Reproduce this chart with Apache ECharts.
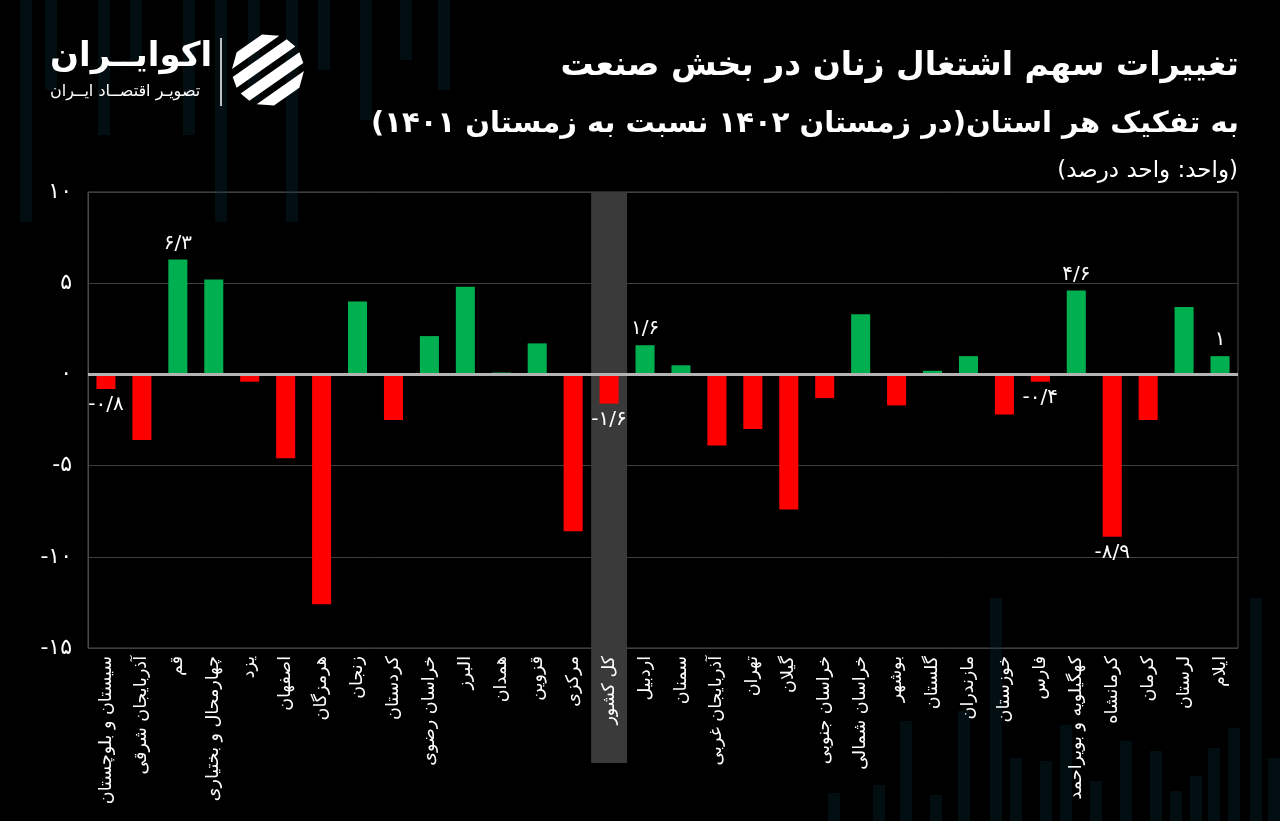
<!DOCTYPE html>
<html lang="fa">
<head>
<meta charset="utf-8">
<script src="https://cdn.jsdelivr.net/npm/echarts@6/dist/echarts.min.js"></script>
<style>
  html, body { margin: 0; padding: 0; background: #000; }
  #chart { width: 1280px; height: 821px; }
</style>
</head>
<body>
<div id="chart"></div>
<script>
// ---- data ----
const categories = [
  'سیستان و بلوچستان', 'آذربایجان شرقی', 'قم', 'چهارمحال و بختیاری', 'یزد', 'اصفهان',
  'هرمزگان', 'زنجان', 'کردستان', 'خراسان رضوی', 'البرز', 'همدان', 'قزوین', 'مرکزی',
  'کل کشور', 'اردبیل', 'سمنان', 'آذربایجان غربی', 'تهران', 'گیلان', 'خراسان جنوبی',
  'خراسان شمالی', 'بوشهر', 'گلستان', 'مازندران', 'خوزستان', 'فارس',
  'کهگیلویه و بویراحمد', 'کرمانشاه', 'کرمان', 'لرستان', 'ایلام'
];
const values = [
  -0.8, -3.6, 6.3, 5.2, -0.4, -4.6,
  -12.6, 4.0, -2.5, 2.1, 4.8, 0.1, 1.7, -8.6,
  -1.6, 1.6, 0.5, -3.9, -3.0, -7.4, -1.3,
  3.3, -1.7, 0.2, 1.0, -2.2, -0.4,
  4.6, -8.9, -2.5, 3.7, 1.0
];
const labeledIndices = [0, 2, 14, 15, 26, 27, 28, 31];
const highlightCategory = 'کل کشور';
const yMin = -15, yMax = 10, yInterval = 5;

const titleLine1 = 'تغییرات سهم اشتغال زنان در بخش صنعت';
const titleLine2 = 'به تفکیک هر استان(در زمستان ۱۴۰۲ نسبت به زمستان ۱۴۰۱)';
const unitText = '(واحد: واحد درصد)';
const brandName = 'اکوایــران';
const brandSlogan = 'تصویـر اقتصــاد ایــران';

// ---- helpers ----
const FA = 'DejaVu Sans';
const RLM = '\u200F';
const rtl = s => RLM + s + RLM;
const faDigits = '۰۱۲۳۴۵۶۷۸۹';
const toFa = v => String(v).replace('.', '/').replace(/\d/g, d => faDigits[d]);

const GREEN = '#00b050', RED = '#ff0000';

const barData = values.map((v, i) => ({
  value: v,
  itemStyle: { color: v >= 0 ? GREEN : RED },
  label: {
    show: labeledIndices.indexOf(i) >= 0,
    position: v >= 0 ? 'top' : 'bottom'
  }
}));

const chart = echarts.init(document.getElementById('chart'), null, { renderer: 'canvas' });

const option = {
  backgroundColor: '#000',
  animation: false,
  title: [
    { text: rtl(titleLine1), right: 36, top: 45,
      textStyle: { color: '#fff', fontFamily: FA, fontWeight: 'bold', fontSize: 33 } },
    { text: rtl(titleLine2), right: 36, top: 105,
      textStyle: { color: '#fff', fontFamily: FA, fontWeight: 'bold', fontSize: 29 } },
    { text: rtl(unitText), right: 37, top: 155,
      textStyle: { color: '#fff', fontFamily: FA, fontWeight: 'normal', fontSize: 23 } }
  ],
  grid: { left: 88, right: 42, top: 192, bottom: 173, show: true, borderColor: '#4a4a4a', borderWidth: 1 },
  xAxis: {
    type: 'category',
    data: categories,
    z: 5,
    axisLine: { show: false },
    axisTick: { show: false },
    axisLabel: { interval: 0, rotate: 90, color: '#fff', fontFamily: FA, fontSize: 17.5, margin: 8,
      formatter: s => rtl(s) }
  },
  yAxis: {
    type: 'value', min: yMin, max: yMax, interval: yInterval,
    axisLine: { show: true, lineStyle: { color: '#4a4a4a' } },
    axisTick: { show: false },
    splitLine: { lineStyle: { color: '#3e3e3e', width: 1 } },
    axisLabel: { color: '#fff', fontFamily: FA, fontSize: 22, margin: 16, formatter: v => toFa(v) }
  },
  series: [{
    type: 'bar',
    data: barData,
    barWidth: '53%',
    z: 3,
    label: { color: '#fff', fontFamily: FA, fontSize: 20, distance: 6, formatter: p => toFa(p.value) },
    markLine: {
      silent: true, symbol: 'none',
      label: { show: false },
      lineStyle: { color: '#b4b4b4', width: 3, type: 'solid' },
      data: [{ yAxis: 0 }]
    }
  }]
};
chart.setOption(option);

// ---- decorations (background stripes, highlight band, logo) ----
const deco = [];
const decoColor = 'rgba(12,50,66,0.28)';
const topStripes = [[20, 222], [45, 90], [98, 135], [130, 60], [183, 135], [215, 222], [248, 100], [286, 222], [318, 70], [360, 120], [400, 60], [438, 90]];
topStripes.forEach(([x, h]) => deco.push({ type: 'rect', z: 0, silent: true,
  shape: { x: x, y: 0, width: 12, height: h }, style: { fill: decoColor } }));
const bottomStripes = [[828, 28], [873, 36], [900, 100], [930, 26], [958, 110], [990, 223], [1010, 63], [1040, 60], [1060, 96], [1090, 40], [1120, 80], [1150, 70], [1170, 30], [1190, 45], [1208, 73], [1228, 93], [1250, 223], [1268, 63]];
bottomStripes.forEach(([x, h]) => deco.push({ type: 'rect', z: 0, silent: true,
  shape: { x: x, y: 821 - h, width: 12, height: h }, style: { fill: decoColor } }));

// highlight band for the national total, located through the chart's own scales
const hi = categories.indexOf(highlightCategory);
const cx = chart.convertToPixel({ xAxisIndex: 0 }, hi);
const bandW = chart.convertToPixel({ xAxisIndex: 0 }, hi + 1) - cx;
const yTop = chart.convertToPixel({ yAxisIndex: 0 }, yMax);
const yBot = chart.convertToPixel({ yAxisIndex: 0 }, yMin);
deco.push({ type: 'rect', z: 1, silent: true,
  shape: { x: cx - bandW / 2, y: yTop, width: bandW, height: (yBot - yTop) + 115 },
  style: { fill: '#3a3a3a' } });

// logo
deco.push({ type: 'text', z: 5, left: 50, top: 40,
  style: { text: rtl(brandName), fill: '#fff', font: 'bold 34px "DejaVu Sans"' } });
deco.push({ type: 'text', z: 5, left: 50, top: 84,
  style: { text: rtl(brandSlogan), fill: '#fff', font: '16px "DejaVu Sans"' } });
deco.push({ type: 'line', z: 5, shape: { x1: 221, y1: 38, x2: 221, y2: 106 },
  style: { stroke: '#fff', lineWidth: 1.5 } });
(function () {
  const c = [268, 70], r = 36;
  const ang = -35 * Math.PI / 180;
  const d = [Math.cos(ang), Math.sin(ang)], n = [-Math.sin(ang), Math.cos(ang)];
  const offs = [-27, -9, 9, 27], w = 11;
  offs.forEach(o => {
    const o1 = o - w / 2, o2 = o + w / 2;
    const L1 = Math.sqrt(Math.max(r * r - o1 * o1, 0)), L2 = Math.sqrt(Math.max(r * r - o2 * o2, 0));
    const p = (oo, L) => [c[0] + n[0] * oo + d[0] * L, c[1] + n[1] * oo + d[1] * L];
    deco.push({ type: 'polygon', z: 5, shape: { points: [p(o1, -L1), p(o1, L1), p(o2, L2), p(o2, -L2)] },
      style: { fill: '#fff' } });
  });
})();

chart.setOption({ graphic: { elements: deco } });
</script>
</body>
</html>
